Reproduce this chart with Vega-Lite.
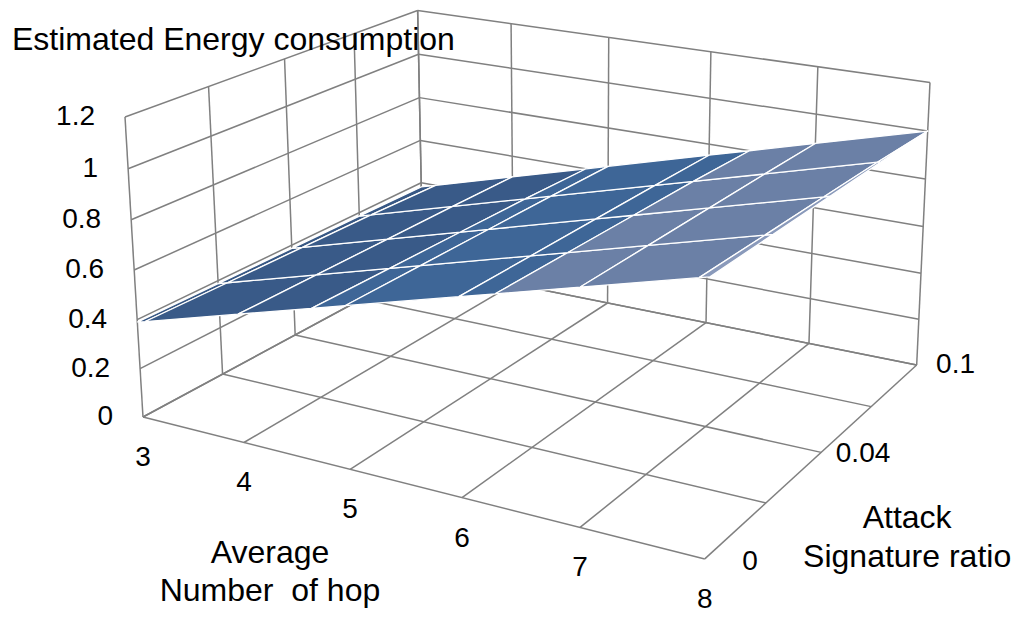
{
  "$schema": "https://vega.github.io/schema/vega-lite/v6.json",
  "width": 1024,
  "height": 622,
  "autosize": "none",
  "padding": 0,
  "background": "white",
  "config": {
    "view": {"stroke": null},
    "text": {"font": "Liberation Sans", "color": "black"}
  },
  "datasets": {
    "surface": [
      {"hop": 3, "ratio": 0, "energy": 0.39},
      {"hop": 3, "ratio": 0.02, "energy": 0.388},
      {"hop": 3, "ratio": 0.04, "energy": 0.386},
      {"hop": 3, "ratio": 0.06, "energy": 0.384},
      {"hop": 3, "ratio": 0.1, "energy": 0.38},
      {"hop": 4, "ratio": 0, "energy": 0.514},
      {"hop": 4, "ratio": 0.02, "energy": 0.512},
      {"hop": 4, "ratio": 0.04, "energy": 0.51},
      {"hop": 4, "ratio": 0.06, "energy": 0.508},
      {"hop": 4, "ratio": 0.1, "energy": 0.504},
      {"hop": 5, "ratio": 0, "energy": 0.638},
      {"hop": 5, "ratio": 0.02, "energy": 0.636},
      {"hop": 5, "ratio": 0.04, "energy": 0.634},
      {"hop": 5, "ratio": 0.06, "energy": 0.632},
      {"hop": 5, "ratio": 0.1, "energy": 0.628},
      {"hop": 6, "ratio": 0, "energy": 0.762},
      {"hop": 6, "ratio": 0.02, "energy": 0.76},
      {"hop": 6, "ratio": 0.04, "energy": 0.758},
      {"hop": 6, "ratio": 0.06, "energy": 0.756},
      {"hop": 6, "ratio": 0.1, "energy": 0.752},
      {"hop": 7, "ratio": 0, "energy": 0.886},
      {"hop": 7, "ratio": 0.02, "energy": 0.884},
      {"hop": 7, "ratio": 0.04, "energy": 0.882},
      {"hop": 7, "ratio": 0.06, "energy": 0.88},
      {"hop": 7, "ratio": 0.1, "energy": 0.876},
      {"hop": 8, "ratio": 0, "energy": 1.01},
      {"hop": 8, "ratio": 0.02, "energy": 1.008},
      {"hop": 8, "ratio": 0.04, "energy": 1.006},
      {"hop": 8, "ratio": 0.06, "energy": 1.004},
      {"hop": 8, "ratio": 0.1, "energy": 1.0}
    ],
    "ticks": [
      {"axis": "hop", "value": 3, "label": "3"},
      {"axis": "hop", "value": 4, "label": "4"},
      {"axis": "hop", "value": 5, "label": "5"},
      {"axis": "hop", "value": 6, "label": "6"},
      {"axis": "hop", "value": 7, "label": "7"},
      {"axis": "hop", "value": 8, "label": "8"},
      {"axis": "ratio", "value": 0, "label": "0"},
      {"axis": "ratio", "value": 0.02, "label": "0.02"},
      {"axis": "ratio", "value": 0.04, "label": "0.04"},
      {"axis": "ratio", "value": 0.06, "label": "0.06"},
      {"axis": "ratio", "value": 0.1, "label": "0.1"},
      {"axis": "energy", "value": 0, "label": "0"},
      {"axis": "energy", "value": 0.2, "label": "0.2"},
      {"axis": "energy", "value": 0.4, "label": "0.4"},
      {"axis": "energy", "value": 0.6, "label": "0.6"},
      {"axis": "energy", "value": 0.8, "label": "0.8"},
      {"axis": "energy", "value": 1, "label": "1"},
      {"axis": "energy", "value": 1.2, "label": "1.2"}
    ],
    "titles": [
      {"axis": "energy", "text": "Estimated Energy consumption"},
      {"axis": "hop", "text": "Average\nNumber\u00a0 of hop"},
      {"axis": "ratio", "text": "Attack\nSignature ratio"}
    ]
  },
  "encoding": {
    "x": {"field": "px", "type": "quantitative", "scale": {"domain": [0, 1024], "nice": false, "zero": false}, "axis": null},
    "y": {"field": "py", "type": "quantitative", "scale": {"domain": [0, 622], "nice": false, "zero": false, "reverse": true}, "axis": null}
  },
  "layer": [
    {
      "data": {"name": "ticks"},
      "transform": [
        {"window": [{"op": "dense_rank", "as": "rank"}], "groupby": ["axis"], "sort": [{"field": "value"}]},
        {"calculate": "[0, 1]", "as": "seg"},
        {"flatten": ["seg"]},
        {"calculate": "[0, 1]", "as": "end"},
        {"flatten": ["end"]},
        {"calculate": "datum.axis === 'hop' ? (datum.value - 3) / 5 : datum.axis === 'ratio' ? (datum.seg === 0 ? datum.end : 0) : (datum.seg === 0 ? 0 : datum.end)", "as": "U"},
        {"calculate": "datum.axis === 'hop' ? (datum.seg === 0 ? datum.end : 1) : datum.axis === 'ratio' ? (datum.rank - 1) / 4 : (datum.seg === 0 ? datum.end : 1)", "as": "V"},
        {"calculate": "datum.axis === 'energy' ? datum.value / 1.2 : (datum.seg === 0 ? 0 : datum.end)", "as": "W"},
        {"calculate": "1 - 0.124 * datum.U + 0.191 * datum.V - 0.04 * datum.W", "as": "den"},
        {"calculate": "(143 + 474.4 * datum.U + 360.7 * datum.V - 23 * datum.W) / datum.den", "as": "px"},
        {"calculate": "(417 + 72.6 * datum.U - 100.2 * datum.V - 304.7 * datum.W) / datum.den", "as": "py"},
        {"calculate": "datum.axis + '_' + datum.value + '_' + datum.seg", "as": "sid"}
      ],
      "mark": {"type": "line", "stroke": "#808080", "strokeWidth": 1.5},
      "encoding": {
        "detail": {"field": "sid"},
        "order": {"field": "end", "type": "quantitative"}
      }
    },
    {
      "data": {"name": "surface"},
      "transform": [
        {"window": [{"op": "lead", "field": "energy", "as": "e10"}, {"op": "lead", "field": "hop", "as": "h1"}], "groupby": ["ratio"], "sort": [{"field": "hop"}]},
        {"window": [{"op": "lead", "field": "energy", "as": "e01"}, {"op": "lead", "field": "e10", "as": "e11"}], "groupby": ["hop"], "sort": [{"field": "ratio"}]},
        {"window": [{"op": "dense_rank", "as": "rr"}], "sort": [{"field": "ratio"}]},
        {"filter": "isValid(datum.e11)"},
        {"calculate": "[0, 0.2, 0.4, 0.6, 0.8, 1]", "as": "lo"},
        {"flatten": ["lo"]},
        {"calculate": "clamp((datum.lo - datum.energy) / (datum.e10 - datum.energy), 0, 1)", "as": "tlb"},
        {"calculate": "clamp((datum.lo + 0.2 - datum.energy) / (datum.e10 - datum.energy), 0, 1)", "as": "thb"},
        {"calculate": "clamp((datum.lo - datum.e01) / (datum.e11 - datum.e01), 0, 1)", "as": "tlt"},
        {"calculate": "clamp((datum.lo + 0.2 - datum.e01) / (datum.e11 - datum.e01), 0, 1)", "as": "tht"},
        {"filter": "datum.thb > datum.tlb || datum.tht > datum.tlt"},
        {"calculate": "datum.hop + '_' + datum.rr + '_' + datum.lo", "as": "pid"},
        {"calculate": "[0, 1, 2, 3, 4]", "as": "corner"},
        {"flatten": ["corner"]},
        {"calculate": "datum.corner === 1 ? datum.thb : datum.corner === 2 ? datum.tht : datum.corner === 3 ? datum.tlt : datum.tlb", "as": "t"},
        {"calculate": "datum.corner === 2 || datum.corner === 3 ? 1 : 0", "as": "top"},
        {"calculate": "(datum.hop + datum.t * (datum.h1 - datum.hop) - 3) / 5", "as": "U"},
        {"calculate": "(datum.rr - 1 + datum.top) / 4", "as": "V"},
        {"calculate": "(datum.top === 1 ? datum.e01 + datum.t * (datum.e11 - datum.e01) : datum.energy + datum.t * (datum.e10 - datum.energy)) / 1.2", "as": "W"},
        {"calculate": "1 - 0.124 * datum.U + 0.191 * datum.V - 0.04 * datum.W", "as": "den"},
        {"calculate": "(143 + 474.4 * datum.U + 360.7 * datum.V - 23 * datum.W) / datum.den", "as": "px"},
        {"calculate": "(417 + 72.6 * datum.U - 100.2 * datum.V - 304.7 * datum.W) / datum.den", "as": "py"}
      ],
      "mark": {"type": "line", "stroke": "white", "strokeWidth": 1.3, "strokeJoin": "round"},
      "encoding": {
        "detail": {"field": "pid"},
        "order": {"field": "corner", "type": "quantitative"},
        "fill": {
          "field": "lo",
          "type": "ordinal",
          "scale": {"domain": [0, 0.2, 0.4, 0.6, 0.8, 1], "range": ["#2f4a73", "#375784", "#395a88", "#3e6697", "#6b80a6", "#8a9abb"]},
          "legend": null
        }
      }
    },
    {
      "data": {"name": "ticks"},
      "transform": [
        {"filter": "datum.axis === 'hop'"},
        {"calculate": "(datum.value - 3) / 5", "as": "U"},
        {"calculate": "1 - 0.124 * datum.U", "as": "den"},
        {"calculate": "(143 + 474.4 * datum.U) / datum.den", "as": "px"},
        {"calculate": "(417 + 72.6 * datum.U) / datum.den", "as": "py"}
      ],
      "mark": {"type": "text", "fontSize": 28, "align": "center", "baseline": "middle", "dy": 41},
      "encoding": {"text": {"field": "label"}}
    },
    {
      "data": {"name": "ticks"},
      "transform": [
        {"filter": "datum.axis === 'energy'"},
        {"calculate": "datum.value / 1.2", "as": "W"},
        {"calculate": "1 - 0.04 * datum.W", "as": "den"},
        {"calculate": "(143 - 23 * datum.W) / datum.den", "as": "px"},
        {"calculate": "(417 - 304.7 * datum.W) / datum.den", "as": "py"}
      ],
      "mark": {"type": "text", "fontSize": 28, "align": "right", "baseline": "middle", "dx": -30},
      "encoding": {"text": {"field": "label"}}
    },
    {
      "data": {"name": "ticks"},
      "transform": [
        {"filter": "datum.axis === 'ratio'"},
        {"window": [{"op": "dense_rank", "as": "rank"}], "sort": [{"field": "value"}]},
        {"filter": "datum.rank % 2 === 1"},
        {"calculate": "(datum.rank - 1) / 4", "as": "V"},
        {"calculate": "1 - 0.124 * 1.07 + 0.191 * datum.V", "as": "den"},
        {"calculate": "(143 + 474.4 * 1.07 + 360.7 * datum.V) / datum.den", "as": "px"},
        {"calculate": "(417 + 72.6 * 1.07 - 100.2 * datum.V) / datum.den", "as": "py"}
      ],
      "mark": {"type": "text", "fontSize": 28, "align": "center", "baseline": "middle", "dy": -8},
      "encoding": {"text": {"field": "label"}}
    },
    {
      "data": {"name": "titles"},
      "transform": [
        {"filter": "datum.axis === 'energy'"},
        {"calculate": "(143 - 23) / 0.96", "as": "px"},
        {"calculate": "(417 - 304.7) / 0.96", "as": "py"}
      ],
      "mark": {"type": "text", "fontSize": 32, "align": "left", "baseline": "alphabetic", "dx": -113, "dy": -67},
      "encoding": {"text": {"field": "text"}}
    },
    {
      "data": {"name": "titles"},
      "transform": [
        {"filter": "datum.axis === 'hop'"},
        {"calculate": "(143 + 474.4 * 0.25) / (1 - 0.124 * 0.25)", "as": "px"},
        {"calculate": "(417 + 72.6 * 0.25) / (1 - 0.124 * 0.25)", "as": "py"}
      ],
      "mark": {"type": "text", "fontSize": 32, "align": "center", "baseline": "alphabetic", "lineBreak": "\n", "lineHeight": 38, "dy": 114},
      "encoding": {"text": {"field": "text"}}
    },
    {
      "data": {"name": "titles"},
      "transform": [
        {"filter": "datum.axis === 'ratio'"},
        {"calculate": "(143 + 474.4 + 360.7 * 0.5) / (1 - 0.124 + 0.191 * 0.5)", "as": "px"},
        {"calculate": "(417 + 72.6 - 100.2 * 0.5) / (1 - 0.124 + 0.191 * 0.5)", "as": "py"}
      ],
      "mark": {"type": "text", "fontSize": 32, "align": "center", "baseline": "alphabetic", "lineBreak": "\n", "lineHeight": 39, "dx": 86, "dy": 76},
      "encoding": {"text": {"field": "text"}}
    }
  ]
}
